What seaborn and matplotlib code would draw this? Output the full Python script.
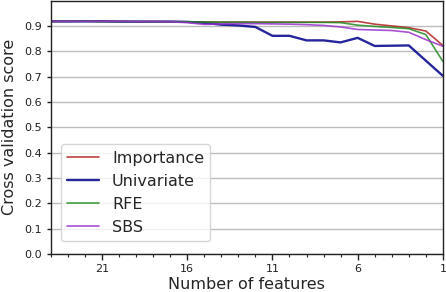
import matplotlib
matplotlib.use("Agg")
import matplotlib.pyplot as plt
from matplotlib.ticker import MultipleLocator
import pandas as pd
import seaborn as sns

# number of features, from 24 down to 1
n_features = list(range(24, 0, -1))

importance = [0.918, 0.918, 0.919, 0.918, 0.918, 0.917, 0.917, 0.917, 0.916, 0.916,
              0.915, 0.915, 0.915, 0.915, 0.915, 0.915, 0.915, 0.916, 0.918, 0.907,
              0.900, 0.893, 0.880, 0.823]
univariate = [0.918, 0.918, 0.918, 0.918, 0.917, 0.917, 0.917, 0.917, 0.916, 0.912,
              0.905, 0.902, 0.896, 0.861, 0.861, 0.843, 0.843, 0.835, 0.853, 0.821,
              0.822, 0.823, 0.763, 0.703]
rfe = [0.917, 0.918, 0.918, 0.917, 0.917, 0.917, 0.916, 0.916, 0.916, 0.915,
       0.915, 0.915, 0.914, 0.914, 0.914, 0.914, 0.914, 0.913, 0.903, 0.898,
       0.894, 0.889, 0.866, 0.760]
sbs = [0.918, 0.918, 0.918, 0.918, 0.918, 0.917, 0.917, 0.916, 0.913, 0.906,
       0.908, 0.909, 0.909, 0.908, 0.907, 0.905, 0.902, 0.896, 0.886, 0.884,
       0.882, 0.875, 0.846, 0.820]

series = {"Importance": importance, "Univariate": univariate, "RFE": rfe, "SBS": sbs}
colors = {"Importance": "firebrick", "Univariate": "darkblue", "RFE": "forestgreen", "SBS": "darkorchid"}
widths = {"Importance": 1.2, "Univariate": 1.7, "RFE": 1.2, "SBS": 1.2}

df = pd.DataFrame({"n": n_features, **series})

sns.set_style("white", {"xtick.bottom": True, "ytick.left": True})
plt.rcParams["font.family"] = ["DejaVu Sans"]

fig = plt.figure(figsize=(4.46, 2.92), dpi=100)
ax = fig.add_axes([0.114, 0.130, 0.879, 0.868])

for name in series:
    sns.lineplot(data=df, x="n", y=name, ax=ax, color=colors[name],
                 linewidth=widths[name], alpha=0.85, label=name)

ax.set_xlim(24, 1)
ax.set_ylim(0, 1.0)
ax.set_xticks([21, 16, 11, 6, 1])
ax.xaxis.set_minor_locator(MultipleLocator(1))
ax.set_yticks([i / 10 for i in range(10)])
ax.set_yticklabels([f"{i / 10:.1f}" for i in range(10)])
ax.yaxis.grid(True, color="#bdbdbd", linewidth=1)
ax.set_axisbelow(True)

for sp in ax.spines.values():
    sp.set_color("#222222")
    sp.set_linewidth(1)

ax.tick_params(axis="both", which="major", direction="out", length=4, width=1,
               color="#222222", labelsize=8, labelcolor="#222222")
ax.tick_params(axis="x", which="minor", bottom=True, direction="out", length=2.5,
               width=0.8, color="#222222")
ax.tick_params(axis="y", which="major", length=3)

ax.set_xlabel("Number of features", fontsize=11.5, labelpad=2)
ax.set_ylabel("Cross validation score", fontsize=11.5, labelpad=5)

ax.legend(loc="lower left", bbox_to_anchor=(0.005, 0.02), fontsize=11.5,
          frameon=True, framealpha=0.8, edgecolor="#cccccc")

fig.savefig("out.png", dpi=100)
